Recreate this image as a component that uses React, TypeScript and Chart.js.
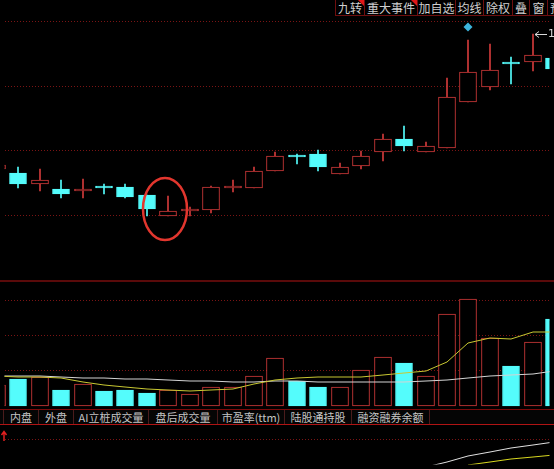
import React, { useEffect, useRef } from "react";
import { Chart, registerables } from "chart.js";

Chart.register(...registerables);

// ---------------- data ----------------
const dayIndex = [-1, 0, 1, 2, 3, 4, 5, 6, 7, 8, 9, 10, 11, 12, 13, 14, 15, 16, 17, 18, 19, 20, 21, 22, 23, 24, 25];
const openPrice = [10.70, 10.65, 10.47, 10.39, 10.36, 10.45, 10.42, 10.30, 9.98, 10.05, 10.07, 10.41, 10.41, 10.68, 10.92, 10.94, 10.63, 10.75, 10.97, 11.18, 10.97, 11.04, 11.75, 11.98, 12.35, 12.37, 12.43];
const highPrice = [10.80, 10.73, 10.71, 10.53, 10.55, 10.47, 10.47, 10.30, 10.29, 10.12, 10.45, 10.54, 10.74, 10.97, 10.94, 11.00, 10.80, 10.98, 11.25, 11.37, 11.13, 12.12, 12.71, 12.65, 12.44, 12.80, 12.50];
const lowPrice = [10.65, 10.41, 10.36, 10.26, 10.26, 10.32, 10.26, 9.98, 9.98, 9.98, 10.03, 10.35, 10.41, 10.68, 10.79, 10.68, 10.63, 10.70, 10.83, 10.98, 10.97, 11.04, 11.75, 11.94, 12.03, 12.23, 12.20];
const closePrice = [10.77, 10.47, 10.53, 10.32, 10.39, 10.41, 10.27, 10.09, 10.05, 10.06, 10.42, 10.42, 10.68, 10.91, 10.90, 10.73, 10.74, 10.91, 11.17, 11.06, 11.06, 11.82, 12.21, 12.25, 12.34, 12.48, 12.26];
const volume = [2.9, 3.75, 4.03, 2.22, 3.06, 2.08, 2.22, 1.81, 2.22, 1.67, 2.64, 2.64, 4.17, 6.81, 3.47, 2.64, 2.64, 5.0, 6.94, 6.11, 4.17, 12.92, 15.14, 9.58, 5.56, 9.03, 12.22];
const volMA5 = [4.17, 4.10, 4.03, 3.89, 3.33, 2.92, 2.64, 2.36, 2.22, 2.08, 2.15, 2.36, 3.06, 3.61, 3.96, 4.03, 4.03, 4.03, 4.31, 4.65, 4.86, 6.25, 8.89, 9.58, 9.44, 10.42, 10.42];
const volMA10 = [4.17, 4.17, 4.17, 4.10, 3.96, 3.89, 3.82, 3.75, 3.61, 3.47, 3.47, 3.33, 3.40, 3.47, 3.54, 3.40, 3.33, 3.33, 3.33, 3.40, 3.47, 3.61, 3.89, 4.17, 4.31, 4.51, 4.86];

const indWhiteIndex = [19, 20, 21, 22, 23, 24, 25];
const indWhite = [-0.29, -0.23, -0.17, -0.13, -0.09, -0.06, -0.03];
const indYellowIndex = [21, 22, 23, 24, 25];
const indYellow = [-0.27, -0.23, -0.20, -0.18, -0.16];

const markerIndex = [21];
const markerPrice = [12.91];

const priceTicks = [10, 11, 12, 13];
const volumeTicks = [5, 10, 15];
const indicatorTicks = [0];

const circleIndex = 6.86;
const circlePrice = 10.08;

const topTabs = ["九转", "重大事件", "加自选", "均线", "除权", "叠", "窗", "预警"];
const topTabEdges = [335, 364, 417, 455, 483, 512, 529, 547, 600];
const topTabFlags = [true, true, false, false, false, false, false, false];
const bottomTabs = ["内盘", "外盘", "AI立桩成交量", "盘后成交量", "市盈率(ttm)", "陆股通持股", "融资融券余额"];
const bottomTabEdges = [3, 38, 73, 148, 217, 284, 351, 430];

// ---------------- styles ----------------
const RED = "#d23a3a";
const CYAN = "#54fcfc";
const GRID = "#7a1414";
const W = 554;
const H = 469;

const upFlags = closePrice.map((c, i) => c >= openPrice[i]);
const candleColor = upFlags.map((u) => (u ? RED : CYAN));
const bodyFill = upFlags.map((u) => (u ? "#000000" : CYAN));

const overlayPlugin = {
  id: "overlay",
  afterDatasetsDraw(chart: any) {
    const ctx = chart.ctx;
    const xs = chart.scales.x;
    const ys = chart.scales.y;
    ctx.save();
    // panel separator
    ctx.fillStyle = "#5a0a0a";
    ctx.fillRect(0, 280, chart.width, 2);
    // annotation ellipse
    const cx = xs.getPixelForValue(circleIndex);
    const cy = ys.getPixelForValue(circlePrice);
    ctx.strokeStyle = "#e2362e";
    ctx.lineWidth = 2.5;
    ctx.beginPath();
    ctx.ellipse(cx, cy, 22, 31, 0, 0, Math.PI * 2);
    ctx.stroke();
    // highest price arrow
    let hiIdx = 0;
    highPrice.forEach((v, i) => {
      if (v > highPrice[hiIdx]) hiIdx = i;
    });
    const hx = xs.getPixelForValue(dayIndex[hiIdx]) + 2;
    const hy = Math.round(ys.getPixelForValue(highPrice[hiIdx])) + 0.5;
    ctx.strokeStyle = "#d8d8d8";
    ctx.lineWidth = 1;
    ctx.beginPath();
    ctx.moveTo(hx, hy);
    ctx.lineTo(hx + 12, hy);
    ctx.moveTo(hx, hy);
    ctx.lineTo(hx + 4, hy - 3);
    ctx.moveTo(hx, hy);
    ctx.lineTo(hx + 4, hy + 3);
    ctx.stroke();
    ctx.fillStyle = "#d8d8d8";
    ctx.font = "11px 'DejaVu Sans', sans-serif";
    ctx.textBaseline = "middle";
    ctx.fillText(highPrice[hiIdx].toFixed(2), hx + 13, hy);
    // small red up arrow in lower panel
    ctx.strokeStyle = "#e02020";
    ctx.lineWidth = 1.5;
    ctx.beginPath();
    ctx.moveTo(4, 441);
    ctx.lineTo(4, 432);
    ctx.moveTo(1.5, 435);
    ctx.lineTo(4, 431.5);
    ctx.lineTo(6.5, 435);
    ctx.stroke();
    ctx.restore();
  },
};

const gridAxis = (min: number, max: number, ticks: number[]) => ({
  type: "linear" as const,
  position: "left" as const,
  min,
  max,
  alignToPixels: true,
  afterBuildTicks: (axis: any) => {
    axis.ticks = ticks.map((v) => ({ value: v }));
  },
  ticks: { display: false },
  grid: { display: true, drawTicks: false, color: GRID, lineWidth: 1 },
  border: { display: false, dash: [1, 2] },
});

export default function App() {
  const canvasRef = useRef<HTMLCanvasElement | null>(null);

  useEffect(() => {
    const canvas = canvasRef.current;
    if (!canvas) return;
    const pts = (ys: number[]) => dayIndex.map((d, i) => ({ x: d, y: ys[i] }));
    const chart = new Chart(canvas, {
      type: "bar",
      data: {
        datasets: [
          {
            type: "line",
            label: "VOL MA5",
            data: pts(volMA5),
            yAxisID: "yv",
            borderColor: "#c8c832",
            borderWidth: 1,
            pointRadius: 0,
            tension: 0,
            order: 0,
          } as any,
          {
            type: "line",
            label: "VOL MA10",
            data: pts(volMA10),
            yAxisID: "yv",
            borderColor: "#d4d4d4",
            borderWidth: 1,
            pointRadius: 0,
            tension: 0,
            order: 0,
          } as any,
          {
            type: "line",
            label: "IND1",
            data: indWhiteIndex.map((d, i) => ({ x: d, y: indWhite[i] })),
            yAxisID: "yi",
            borderColor: "#e0e0e0",
            borderWidth: 1,
            pointRadius: 0,
            tension: 0,
            order: 0,
          } as any,
          {
            type: "line",
            label: "IND2",
            data: indYellowIndex.map((d, i) => ({ x: d, y: indYellow[i] })),
            yAxisID: "yi",
            borderColor: "#d8d820",
            borderWidth: 1,
            pointRadius: 0,
            tension: 0,
            order: 0,
          } as any,
          {
            type: "line",
            label: "marker",
            data: markerIndex.map((d, i) => ({ x: d, y: markerPrice[i] })),
            yAxisID: "y",
            showLine: false,
            pointStyle: "rectRot",
            pointRadius: 4.5,
            pointBackgroundColor: "#3cb4dc",
            pointBorderWidth: 0,
            order: 0,
          } as any,
          {
            type: "bar",
            label: "body",
            data: dayIndex.map((d, i) => ({ x: d, y: [openPrice[i], closePrice[i]] })),
            yAxisID: "y",
            backgroundColor: bodyFill,
            borderColor: candleColor,
            borderWidth: 1,
            borderSkipped: false,
            barThickness: 17,
            minBarLength: 2,
            grouped: false,
            order: 1,
          } as any,
          {
            type: "bar",
            label: "wick",
            data: dayIndex.map((d, i) => ({ x: d, y: [lowPrice[i], highPrice[i]] })),
            yAxisID: "y",
            backgroundColor: candleColor,
            borderWidth: 0,
            barThickness: 1,
            grouped: false,
            order: 2,
          } as any,
          {
            type: "bar",
            label: "volume",
            data: dayIndex.map((d, i) => ({ x: d, y: volume[i] })),
            yAxisID: "yv",
            backgroundColor: bodyFill,
            borderColor: candleColor,
            borderWidth: 1,
            borderSkipped: false,
            barThickness: 17,
            grouped: false,
            order: 1,
          } as any,
        ],
      },
      options: {
        responsive: false,
        devicePixelRatio: 1,
        animation: false,
        events: [],
        layout: { padding: 0 },
        plugins: { legend: { display: false }, tooltip: { enabled: false } },
        scales: {
          x: {
            type: "linear",
            min: -0.64,
            max: 24.78,
            offset: false,
            alignToPixels: true,
            display: false,
          },
          y: gridAxis(6.12, 13.26, priceTicks),
          yv: gridAxis(-8.33, 56.81, volumeTicks),
          yi: gridAxis(-0.26, 4.43, indicatorTicks),
        },
      } as any,
      plugins: [overlayPlugin],
    });
    return () => chart.destroy();
  }, []);

  const tabText = "'Noto Sans CJK SC', 'Noto Sans', sans-serif";

  return (
    <div
      style={{
        position: "fixed",
        left: 0,
        top: 0,
        width: W,
        height: H,
        background: "#000",
        overflow: "hidden",
      }}
    >
      <canvas
        ref={canvasRef}
        width={W}
        height={H}
        style={{ position: "absolute", left: 0, top: 0, width: W, height: H }}
      />
      {/* top tabs */}
      <div
        style={{
          position: "absolute",
          left: topTabEdges[0],
          top: 0,
          width: W - topTabEdges[0],
          height: 15,
          borderBottom: "1px solid #6e0e0e",
          background: "#000",
        }}
      >
        {topTabs.map((t, i) => {
          const last = i === topTabs.length - 1;
          return (
            <div
              key={t}
              style={{
                position: "absolute",
                left: topTabEdges[i] - topTabEdges[0],
                top: 0,
                width: topTabEdges[i + 1] - topTabEdges[i],
                height: 15,
                borderLeft: "1px solid #6e0e0e",
                boxSizing: "border-box",
                color: "#cfcfcf",
                fontFamily: tabText,
                fontSize: 12,
                lineHeight: "15px",
                textAlign: last ? "left" : "center",
                paddingLeft: last ? 2 : 0,
                whiteSpace: "nowrap",
                overflow: "hidden",
              }}
            >
              {t}
              {topTabFlags[i] ? (
                <div
                  style={{
                    position: "absolute",
                    right: 0,
                    top: 0,
                    width: 0,
                    height: 0,
                    borderTop: "6px solid #e01818",
                    borderLeft: "6px solid transparent",
                  }}
                />
              ) : null}
            </div>
          );
        })}
      </div>
      {/* bottom tabs */}
      <div
        style={{
          position: "absolute",
          left: 0,
          top: 409,
          width: W,
          height: 16,
          borderTop: "1px solid #7a0a0a",
          borderBottom: "1px solid #b01414",
          boxSizing: "border-box",
          background: "#050505",
        }}
      >
        {bottomTabs.map((t, i) => (
          <div
            key={t}
            style={{
              position: "absolute",
              left: bottomTabEdges[i],
              top: 0,
              width: bottomTabEdges[i + 1] - bottomTabEdges[i],
              height: 14,
              borderLeft: "1px solid #4a1c1c",
              borderRight: i === bottomTabs.length - 1 ? "1px solid #4a1c1c" : "none",
              boxSizing: "border-box",
              color: "#c4c4c4",
              fontFamily: tabText,
              fontSize: 11,
              lineHeight: "14px",
              textAlign: "center",
              whiteSpace: "nowrap",
            }}
          >
            {t}
          </div>
        ))}
      </div>
    </div>
  );
}
